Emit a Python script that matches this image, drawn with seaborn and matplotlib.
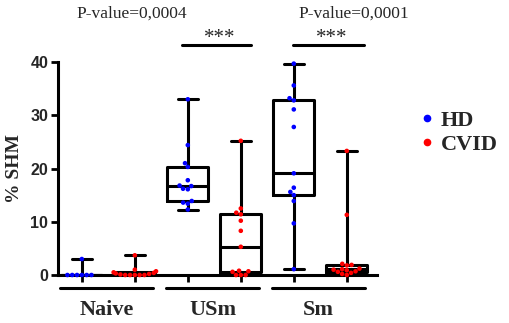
import pandas as pd
import matplotlib.pyplot as plt
import seaborn as sns
from matplotlib.lines import Line2D

# values (% SHM per donor)
naive_hd = [3.0, 0, 0, 0, 0, 0, 0]
naive_cvid = [3.7, 1.0, 0.7, 0.5, 0.4, 0.3, 0.2, 0.1, 0, 0, 0, 0, 0]
usm_hd = [33.0, 24.4, 21.0, 20.3, 17.8, 16.8, 16.7, 16.2, 16.1, 13.9, 13.6, 13.4, 12.3]
usm_cvid = [25.2, 12.5, 11.7, 11.4, 10.2, 8.3, 5.3, 0.8, 0.7, 0.6, 0, 0, 0]
sm_hd = [39.7, 35.6, 33.2, 32.8, 31.1, 27.8, 19.1, 16.4, 15.6, 15.0, 13.9, 9.7, 1.1]
sm_cvid = [23.3, 11.3, 2.1, 1.9, 1.8, 1.2, 1.1, 1.0, 0.9, 0.7, 0.6, 0.4, 0.2, 0]

groups = ["Naive", "USm", "Sm"]
donors = ["HD", "CVID"]
p_values = ["P-value=0,0004", "P-value=0,0001"]
colors = {"HD": "#0000FF", "CVID": "#FF0000"}

series = {
    ("Naive", "HD"): naive_hd, ("Naive", "CVID"): naive_cvid,
    ("USm", "HD"): usm_hd, ("USm", "CVID"): usm_cvid,
    ("Sm", "HD"): sm_hd, ("Sm", "CVID"): sm_cvid,
}
rows = []
for (g, d), vals in series.items():
    for v in vals:
        rows.append({"cell": f"{g} {d}", "donor": d, "shm": v})
data = pd.DataFrame(rows)
order = [f"{g} {d}" for g in groups for d in donors]

sns.set_style("white")
plt.rcParams["font.family"] = ["Liberation Serif", "DejaVu Serif"]

fig = plt.figure(figsize=(5.1, 3.23), dpi=100)
ax = fig.add_axes([0.1137, 0.1486, 0.6255, 0.6594])

sns.boxplot(data=data, x="cell", y="shm", order=order, whis=(0, 100),
            showfliers=False, fill=False, color="black", linecolor="black",
            linewidth=2.2, width=0.77, ax=ax)
sns.swarmplot(data=data, x="cell", y="shm", hue="donor", order=order,
              palette=colors, size=3.3, legend=False, ax=ax)
for coll in ax.collections:
    coll.set_clip_on(False)
    coll.set_zorder(4)

ax.set_xlim(-0.45, 5.57)
ax.set_ylim(0, 40)
ax.set_yticks([0, 10, 20, 30, 40])
ax.set_xticks(range(6))
ax.set_xticklabels([])
ax.set_xlabel("")
ax.set_ylabel("% SHM", fontsize=14, fontweight="bold", labelpad=5)
for lab in ax.get_yticklabels():
    lab.set_fontfamily("Liberation Sans")
    lab.set_fontweight("bold")
    lab.set_fontsize(11.5)
ax.tick_params(axis="both", direction="out", length=5, width=2, color="black",
               left=True, bottom=True)
ax.tick_params(axis="y", pad=2)
for s in ["top", "right"]:
    ax.spines[s].set_visible(False)
for s in ["left", "bottom"]:
    ax.spines[s].set_linewidth(2.2)
    ax.spines[s].set_color("black")

# group underlines and names
for i, g in enumerate(groups):
    c = 2 * i + 0.47
    ax.plot([c - 0.88, c + 0.88], [-2.45, -2.45], color="black", lw=2.2, clip_on=False)
    ax.text(c, -6.6, g, ha="center", va="center", fontsize=16, fontweight="bold")

# significance brackets
for x0, x1, xs, xp, p in [(1.89, 3.2, 2.6, 0.94, p_values[0]), (3.98, 5.32, 4.72, 5.13, p_values[1])]:
    ax.plot([x0, x1], [43.2, 43.2], color="black", lw=2.2, clip_on=False)
    ax.text(xs, 44.4, "***", ha="center", va="center", fontsize=15)
    ax.text(xp, 49.0, p, ha="center", va="center", fontsize=12.5)

handles = [Line2D([], [], marker="o", ls="", color=colors[d], markersize=4.5) for d in donors]
leg = ax.legend(handles, donors, loc="center left", bbox_to_anchor=(1.06, 0.668),
                frameon=False, handletextpad=0.1, labelspacing=0.15, handlelength=1,
                prop={"family": "Liberation Serif", "weight": "bold", "size": 16})

fig.savefig("out.png", dpi=100)
